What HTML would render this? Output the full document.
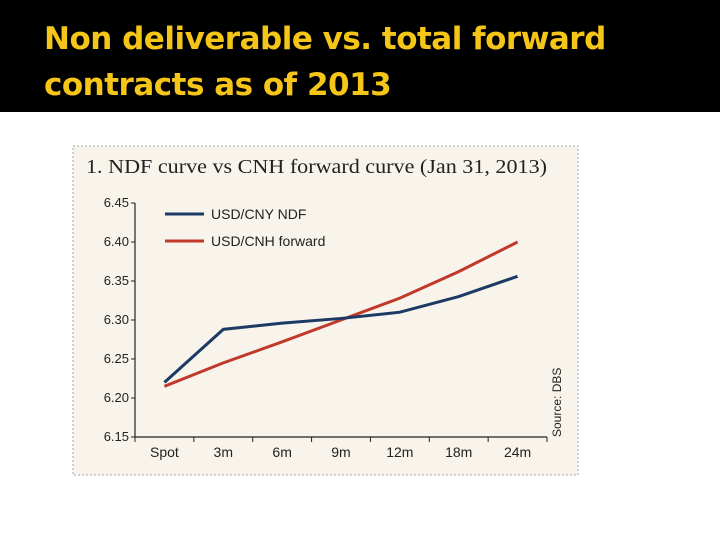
<!DOCTYPE html>
<html><head><meta charset="utf-8"><style>
body{margin:0;width:720px;height:540px;background:#fff;overflow:hidden;font-family:"Liberation Sans",sans-serif}
#hdr{position:absolute;left:0;top:0;width:720px;height:112px;background:#000}
#hdr div{position:absolute;left:44px;top:16px;color:#f5c518;font-size:31px;font-weight:bold;line-height:46px;font-family:"DejaVu Sans","Liberation Sans",sans-serif;letter-spacing:-0.5px}
</style></head><body>
<div id="hdr"><div>Non deliverable vs. total forward<br>contracts as of 2013</div></div>
<svg id="c" width="720" height="540" style="position:absolute;left:0;top:0">
<rect x="73" y="146" width="505" height="329" fill="#f8f4ec" stroke="#aaa" stroke-dasharray="2,2"/>
<text x="86" y="173" font-family="Liberation Serif,serif" font-size="20" fill="#222" textLength="461" lengthAdjust="spacingAndGlyphs">1. NDF curve vs CNH forward curve (Jan 31, 2013)</text>
<text transform="translate(561,437) rotate(-90)" font-size="12" fill="#222">Source: DBS</text>
</svg>
<script>
const categories=["Spot","3m","6m","9m","12m","18m","24m"];
const ndf=[6.220,6.288,6.296,6.302,6.310,6.330,6.356];
const cnh=[6.215,6.245,6.272,6.300,6.328,6.362,6.400];
const yTicks=[6.15,6.20,6.25,6.30,6.35,6.40,6.45];
const svg=document.getElementById('c'),NS='http://www.w3.org/2000/svg';
const x0=135,x1=547,yMin=6.15,yMax=6.45,yB=437,yT=203;
const step=(x1-x0)/categories.length;
const xs=i=>x0+step*(i+0.5), ys=v=>yB-(v-yMin)/(yMax-yMin)*(yB-yT);
function mk(t,a){const e=document.createElementNS(NS,t);for(const k in a)e.setAttribute(k,a[k]);svg.appendChild(e);return e;}
let e=mk('line',{x1:x0,y1:yT,x2:x0,y2:yB,stroke:'#222','stroke-width':1.2});


e=mk('line',{x1:x0,y1:yB,x2:x1,y2:yB,stroke:'#222','stroke-width':1.2});


yTicks.forEach(v=>{
 let t=mk('line',{x1:x0-4,y1:ys(v),x2:x0,y2:ys(v),stroke:'#222'});
 
 
 let l=mk('text',{x:x0-6,y:ys(v)+4,'text-anchor':'end','font-size':13,fill:'#222'});
 l.textContent=v.toFixed(2);
 
 
});
for(let i=0;i<=categories.length;i++){
 let t=mk('line',{x1:x0+step*i,y1:yB,x2:x0+step*i,y2:yB+5,stroke:'#222'});
 
 
}
categories.forEach((c,i)=>{
 let l=mk('text',{x:xs(i),y:yB+20,'text-anchor':'middle','font-size':14,fill:'#222'});
 l.textContent=c;
 
 
});
function series(d,col,name){
 let p=mk('polyline',{points:d.map((v,i)=>xs(i)+','+ys(v)).join(' '),fill:'none',stroke:col,'stroke-width':3});
 
 
}
series(cnh,'#c0392b','cnh-forward-line');
series(ndf,'#1c3a63','ndf-line');
[['USD/CNY NDF','#1c3a63',217],['USD/CNH forward','#c0392b',244]].forEach(([t,c,y])=>{
 let l=mk('line',{x1:165,y1:y-3,x2:204,y2:y-3,stroke:c,'stroke-width':3});
 
 
 let tx=mk('text',{x:211,y:y+2,'font-size':14,fill:'#222'});
 tx.textContent=t;
 
 
});
</script>
</body></html>
